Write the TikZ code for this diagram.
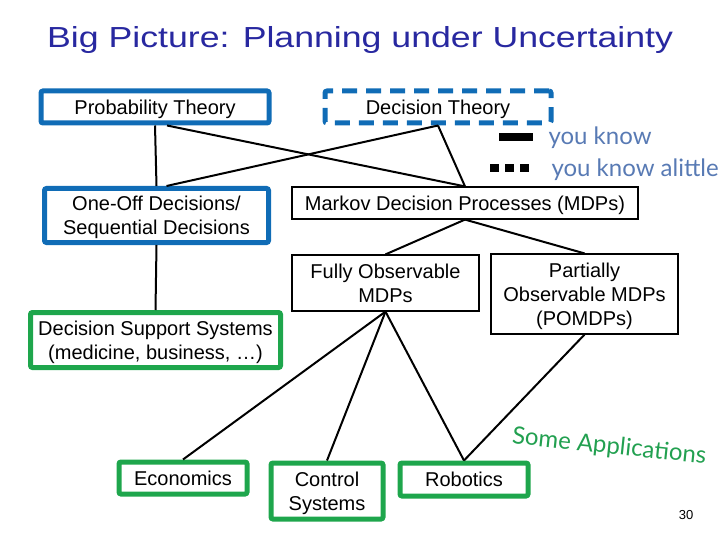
\documentclass[tikz,border=0pt]{standalone}
\usepackage{fontspec}
\setmainfont{Liberation Sans}
\newfontfamily\handfont{Lato}
\definecolor{boxblue}{RGB}{16,108,182}
\definecolor{appgreen}{RGB}{30,166,76}
\definecolor{titleblue}{RGB}{40,40,160}
\definecolor{handblue}{RGB}{88,122,180}
\definecolor{handgreen}{RGB}{34,160,80}
\usetikzlibrary{positioning}
\tikzset{
  bx/.style={draw,align=center,inner sep=0pt,text depth=0pt,font=\fontsize{20}{24}\selectfont},
  knownbox/.style={bx,boxblue,line width=5pt,rounded corners=2pt,text=black},
  partbox/.style={knownbox,dash pattern=on 15pt off 9pt},
  plainbox/.style={bx,line width=1.2pt},
  appbox/.style={bx,appgreen,line width=5pt,rounded corners=2pt,text=black},
  conn/.style={line width=2pt},
  handlab/.style={anchor=base west,font=\handfont\fontsize{24}{24}\selectfont},
}

\begin{document}
\begin{tikzpicture}[x=1pt,y=-1pt]
  \useasboundingbox (0,0) rectangle (720,540);
  % title
  \node[anchor=base west,text=titleblue,font=\fontsize{29}{29}\selectfont,inner sep=0pt]
    (title) at (47,48) {\scalebox{1.23}[1]{Big Picture: Planning under Uncertainty}};
  % theory (top row)
  \node[knownbox,minimum width=228,minimum height=32] (prob) at (155,107) {Probability Theory};
  \node[partbox,minimum width=226,minimum height=32] (dtheory) at (438,107) {Decision Theory};
  % legend
  \draw[line width=8pt] (499,137) -- (533,137);
  \draw[line width=8pt,dash pattern=on 9pt off 6pt] (490,168) -- (532,168);
  \node[handlab,text=handblue] (lgknown) at (545,145) {you know};
  \node[handlab,text=handblue] (lglittle) at (548,177) {you know alittle};
  % second row
  \node[knownbox,minimum width=224,minimum height=54] (oneoff) at (156.5,215.5) {One-Off Decisions/\\Sequential Decisions};
  \node[plainbox,minimum width=346,minimum height=32] (markov) at (465,203) {Markov Decision Processes (MDPs)};
  \node[plainbox,minimum width=187,minimum height=56] (fully) at (385.5,283) {Fully Observable\\MDPs};
  \node[plainbox,minimum width=187,minimum height=80] (partial) at (584.5,294) {Partially\\Observable MDPs\\(POMDPs)};
  % applications
  \node[appbox,minimum width=250,minimum height=55] (dss) at (155.5,340) {Decision Support Systems\\(medicine, business, \dots)};
  \node[appbox,minimum width=128,minimum height=32] (econ) at (183,478) {Economics};
  \node[appbox,minimum width=112,minimum height=56] (control) at (327,491) {Control\\Systems};
  \node[appbox,minimum width=128,minimum height=33] (robot) at (464,479.5) {Robotics};
  \node[anchor=base west,rotate=-6,text=handgreen,font=\handfont\fontsize{24}{24}\selectfont]
    (someapp) at (508,443) {Some Applications};
  \node[anchor=base,font=\fontsize{13}{13}\selectfont] (pagenum) at (686,519) {30};
  % connectors
  \draw[conn] (prob.south) -- (oneoff.north);
  \draw[conn] ([xshift=12pt]prob.south) -- (markov.north);
  \draw[conn] (dtheory.south) -- (markov.north);
  \draw[conn] (dtheory.south) -- ([xshift=10pt]oneoff.north);
  \draw[conn] (oneoff.south) -- (dss.north);
  \draw[conn] (markov.south) -- (fully.north);
  \draw[conn] (markov.south) -- (partial.north);
  \draw[conn] (fully.south) -- (econ.north);
  \draw[conn] (fully.south) -- (control.north);
  \draw[conn] (fully.south) -- (robot.north);
  \draw[conn] (partial.south) -- (robot.north);
\end{tikzpicture}
\end{document}
